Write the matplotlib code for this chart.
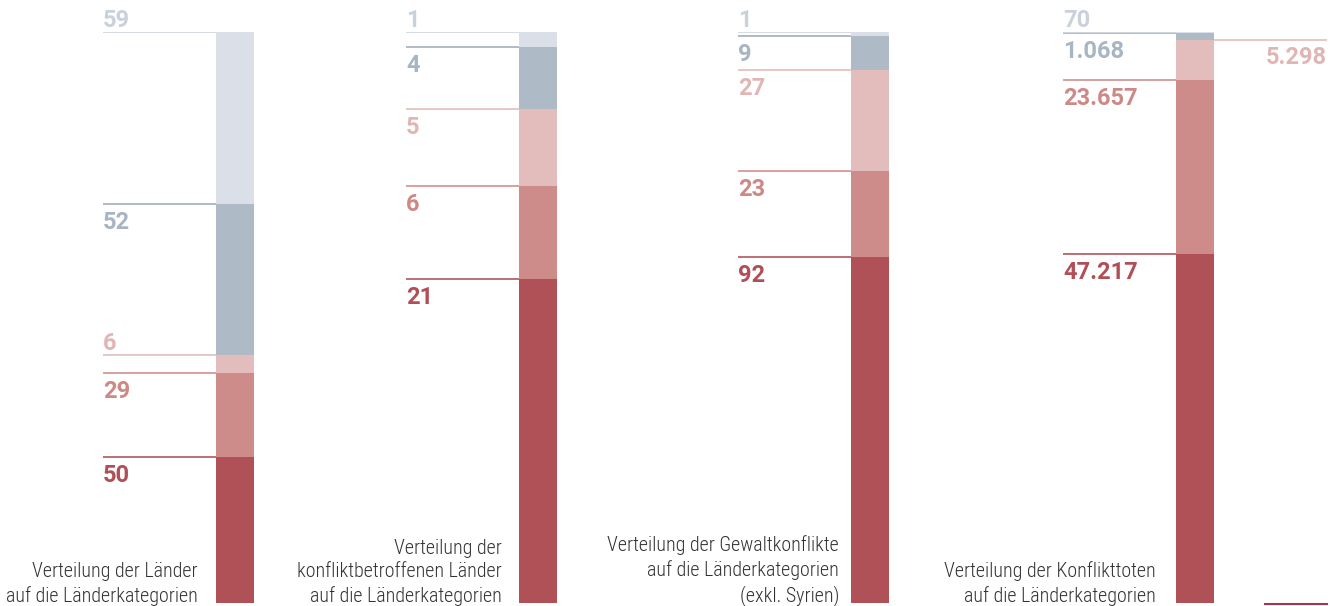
import numpy as np
import matplotlib.pyplot as plt

# values per bar, bottom to top
categories = ["bar1", "bar2", "bar3", "bar4"]
laender = [50, 29, 6, 52, 59]
betroffen = [21, 6, 5, 4, 1]
konflikte = [92, 23, 27, 9, 1]
tote = [47217, 23657, 5298, 1068, 70]
labels1 = ["50", "29", "6", "52", "59"]
labels2 = ["21", "6", "5", "4", "1"]
labels3 = ["92", "23", "27", "9", "1"]
labels4 = ["47.217", "23.657", "5.298", "1.068", "70"]
captions = [
    "Verteilung der Länder\nauf die Länderkategorien",
    "Verteilung der\nkonfliktbetroffenen Länder\nauf die Länderkategorien",
    "Verteilung der Gewaltkonflikte\nauf die Länderkategorien\n(exkl. Syrien)",
    "Verteilung der Konflikttoten\nauf die Länderkategorien",
]

series = [laender, betroffen, konflikte, tote]
labels = [labels1, labels2, labels3, labels4]

# layout (pixels)
bar_x = [216, 519, 851, 1176]
bar_w = 38
cap_right = [198, 502, 839, 1156]
seg_colors = ["#b05057", "#cd8c89", "#e2bdbc", "#aebac6", "#dbe0e8"]
text_colors = ["#b04f56", "#cc8986", "#e0b6b5", "#a8b5c2", "#c9d1db"]
line_colors = ["#b8626a", "#d39a97", "#e6c3c2", "#a9b5c2", "#d3d9e1"]
# placement: default label below line, these above / on the right
above = {(0, 2)}
right_side = {(3, 2)}

fig = plt.figure(figsize=(13.3, 6.06), dpi=100)
ax = fig.add_axes([0, 3 / 606, 1, 571 / 606])
ax.set_xlim(0, 1330)
ax.set_ylim(0, 1)
ax.axis("off")

num_font = {"family": ["Roboto", "DejaVu Sans"], "weight": "bold", "fontsize": 17}
cap_font = ["Roboto Condensed", "Liberation Sans Narrow", "Roboto", "DejaVu Sans"]

for i, vals in enumerate(series):
    vals = np.array(vals, dtype=float)
    frac = vals / vals.sum()
    bottoms = np.concatenate([[0], np.cumsum(frac)[:-1]])
    ax.bar(bar_x[i], frac, bottom=bottoms, width=bar_w, align="edge",
           color=seg_colors, edgecolor="none", zorder=3)
    left = bar_x[i] - 113
    right = bar_x[i] + bar_w
    n = len(vals)
    for j in range(n):
        top = bottoms[j] + frac[j]
        if (i, j) in right_side:
            ax.plot([right, 1327], [top, top], color=line_colors[j], lw=1.3,
                    zorder=2, solid_capstyle="butt")
            ax.annotate(labels[i][j], (1327, top), xytext=(0, -6),
                        textcoords="offset pixels", ha="right", va="top",
                        color=text_colors[j], **num_font)
            continue
        ax.plot([left, right], [top, top], color=line_colors[j], lw=1.3,
                zorder=2, solid_capstyle="butt")
        if j == n - 1 or (i, j) in above:
            ax.annotate(labels[i][j], (left, top), xytext=(0, 5),
                        textcoords="offset pixels", ha="left", va="baseline",
                        color=text_colors[j], **num_font)
        else:
            ax.annotate(labels[i][j], (left, top), xytext=(0, -7),
                        textcoords="offset pixels", ha="left", va="top",
                        color=text_colors[j], **num_font)
    ax.annotate(captions[i], (cap_right[i], 0), xytext=(0, -3),
                textcoords="offset pixels", ha="right", va="bottom",
                multialignment="right", linespacing=1.3, fontsize=14.4,
                family=cap_font, weight="light", color="#333333")

# small red rule bottom right
ax.plot([1265, 1327], [-0.001, -0.001], color="#b0324a", lw=1.5, clip_on=False)

fig.savefig("out.png", dpi=100)
